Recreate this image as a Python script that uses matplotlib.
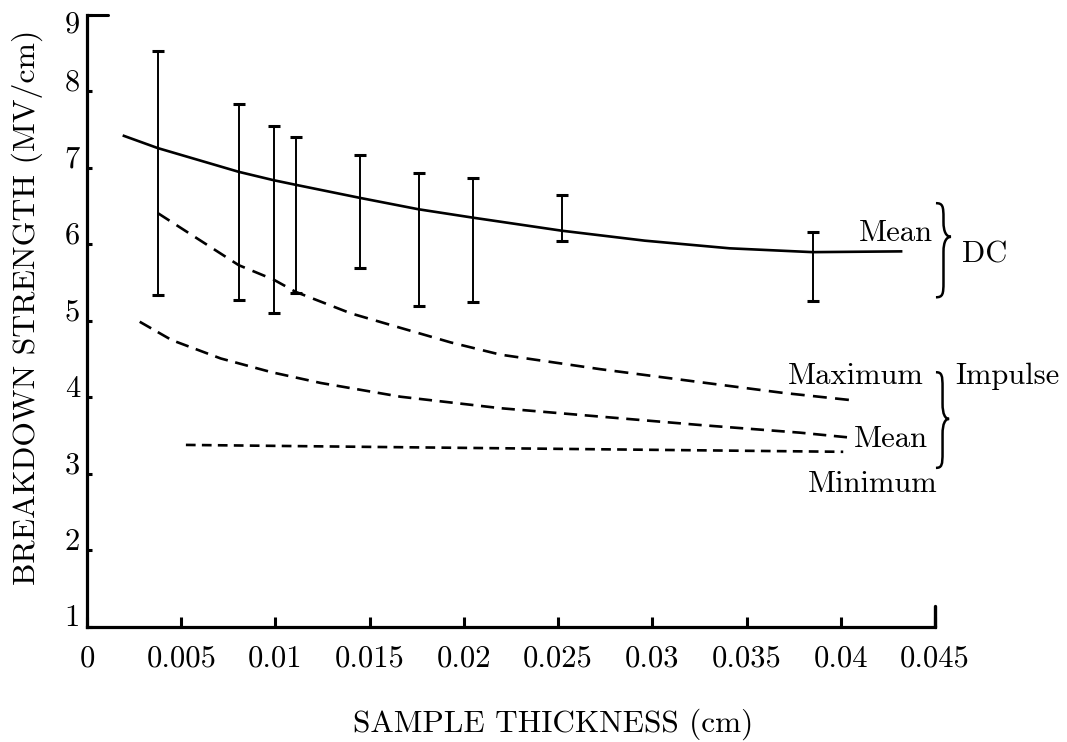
import numpy as np
import matplotlib
matplotlib.use('Agg')
import matplotlib.pyplot as plt
from matplotlib.path import Path
from matplotlib.patches import PathPatch
from matplotlib.transforms import ScaledTranslation

plt.rcParams['font.family'] = ['cmr10', 'DejaVu Serif']
plt.rcParams['axes.formatter.use_mathtext'] = True
plt.rcParams['lines.scale_dashes'] = False

# DC error bars (thickness cm, low / high MV/cm)
bar_x = [0.00376, 0.00805, 0.00991, 0.01108, 0.01447, 0.0176, 0.0205, 0.0252, 0.0385]
bar_lo = [5.34, 5.27, 5.10, 5.37, 5.69, 5.19, 5.25, 6.05, 5.26]
bar_hi = [8.53, 7.84, 7.55, 7.41, 7.17, 6.94, 6.87, 6.65, 6.16]

# DC mean curve
dc_x = [0.00196, 0.00376, 0.00805, 0.00991, 0.01108, 0.01447, 0.0176, 0.0205, 0.0252,
        0.0296, 0.0341, 0.0385, 0.0432]
dc_y = [7.42, 7.26, 6.95, 6.84, 6.78, 6.61, 6.46, 6.35, 6.18, 6.05, 5.95, 5.90, 5.91]

# impulse curves
imax_x = [0.00376, 0.00805, 0.00991, 0.01108, 0.01400, 0.01664, 0.01930, 0.02194, 0.02724,
          0.03254, 0.03694, 0.04075]
imax_y = [6.41, 5.73, 5.54, 5.38, 5.10, 4.91, 4.72, 4.56, 4.37, 4.20, 4.06, 3.96]
imean_x = [0.0028, 0.0045, 0.0071, 0.0098, 0.0124, 0.01664, 0.02194, 0.02724, 0.03254,
           0.03784, 0.04033]
imean_y = [4.99, 4.75, 4.51, 4.33, 4.19, 4.01, 3.86, 3.75, 3.64, 3.54, 3.48]
imin_x = [0.00525, 0.01664, 0.04013]
imin_y = [3.38, 3.35, 3.29]

xticks = [0, 0.005, 0.01, 0.015, 0.02, 0.025, 0.03, 0.035, 0.04, 0.045]
xtick_labels = ['0', '0.005', '0.01', '0.015', '0.02', '0.025', '0.03', '0.035', '0.04', '0.045']
yticks = [1, 2, 3, 4, 5, 6, 7, 8, 9]


def brace(ax, x0, ytop, ybot, ym, w, lw=1.8):
    d = 0.16 * (ytop - ybot)
    xm = x0 + w / 2
    verts = [(x0, ytop),
             (x0 + 0.45 * w, ytop), (xm, ytop - 0.2 * d), (xm, ytop - d),
             (xm, ym + d),
             (xm, ym + 0.3 * d), (x0 + 0.7 * w, ym), (x0 + w, ym),
             (x0 + 0.7 * w, ym), (xm, ym - 0.3 * d), (xm, ym - d),
             (xm, ybot + d),
             (xm, ybot + 0.2 * d), (x0 + 0.45 * w, ybot), (x0, ybot)]
    codes = [Path.MOVETO, Path.CURVE4, Path.CURVE4, Path.CURVE4, Path.LINETO,
             Path.CURVE4, Path.CURVE4, Path.CURVE4, Path.CURVE4, Path.CURVE4, Path.CURVE4,
             Path.LINETO, Path.CURVE4, Path.CURVE4, Path.CURVE4]
    ax.add_patch(PathPatch(Path(verts, codes), fill=False, lw=lw, color='black', clip_on=False))


fig = plt.figure(figsize=(10.67, 7.42), dpi=100)
ax = fig.add_axes([0.0815, 0.155, 0.7948, 0.8248])

ctr = [(lo + hi) / 2 for lo, hi in zip(bar_lo, bar_hi)]
err = [(hi - lo) / 2 for lo, hi in zip(bar_lo, bar_hi)]
ax.errorbar(bar_x, ctr, yerr=err, fmt='none', ecolor='black', elinewidth=1.4,
            capsize=4.5, capthick=2.2)

ax.plot(dc_x, dc_y, color='black', lw=1.9)
ax.plot(imax_x, imax_y, color='black', lw=1.9, dashes=(10, 6))
ax.plot(imean_x, imean_y, color='black', lw=1.9, dashes=(9.5, 5.5))
ax.plot(imin_x, imin_y, color='black', lw=1.9, dashes=(7, 4.5))

ax.set_xlim(0, 0.045)
ax.set_ylim(1, 9)
for s in ['top', 'right']:
    ax.spines[s].set_visible(False)
for s in ['left', 'bottom']:
    ax.spines[s].set_linewidth(2.3)

ax.set_xticks(xticks)
ax.set_xticklabels(xtick_labels, fontsize=22)
ax.tick_params(axis='x', direction='in', length=7, width=2.2, pad=13)
ax.set_yticks(yticks)
ax.set_yticklabels([])
ax.tick_params(axis='y', direction='in', length=3.5, width=2.2)

for v in yticks:
    dy = -7 if v == 9 else 6
    tr = ax.get_yaxis_transform() + ScaledTranslation(-5 / 72, dy / 72, fig.dpi_scale_trans)
    ax.text(0, v, str(v), transform=tr, ha='right', va='center', fontsize=22)

# axis end hooks
ax.plot([0, 0.0011], [9, 9], color='black', lw=2.2, clip_on=False, solid_capstyle='round')
ax.plot([0.045, 0.045], [1, 1.28], color='black', lw=2.4, clip_on=False, solid_capstyle='round')

ax.set_xlabel('SAMPLE THICKNESS (cm)', fontsize=22.5)
ax.xaxis.set_label_coords(0.55, -0.134)
ax.set_ylabel('BREAKDOWN STRENGTH (MV/cm)', fontsize=22.8)
ax.yaxis.set_label_coords(-0.052, 0.523)

# annotations
ax.text(0.0449, 6.05, 'Mean', ha='right', va='baseline', fontsize=22)
brace(ax, 0.04505, 6.54, 5.31, 6.10, 0.0008)
ax.text(0.04642, 5.77, 'DC', ha='left', va='baseline', fontsize=22)

ax.text(0.0372, 4.18, 'Maximum', ha='left', va='baseline', fontsize=22)
ax.text(0.04605, 4.18, 'Impulse', ha='left', va='baseline', fontsize=22)
ax.text(0.0446, 3.35, 'Mean', ha='right', va='baseline', fontsize=22)
ax.text(0.03826, 2.76, 'Minimum', ha='left', va='baseline', fontsize=22)
brace(ax, 0.04505, 4.33, 3.08, 3.72, 0.0007)

fig.savefig('out.png', dpi=100)
